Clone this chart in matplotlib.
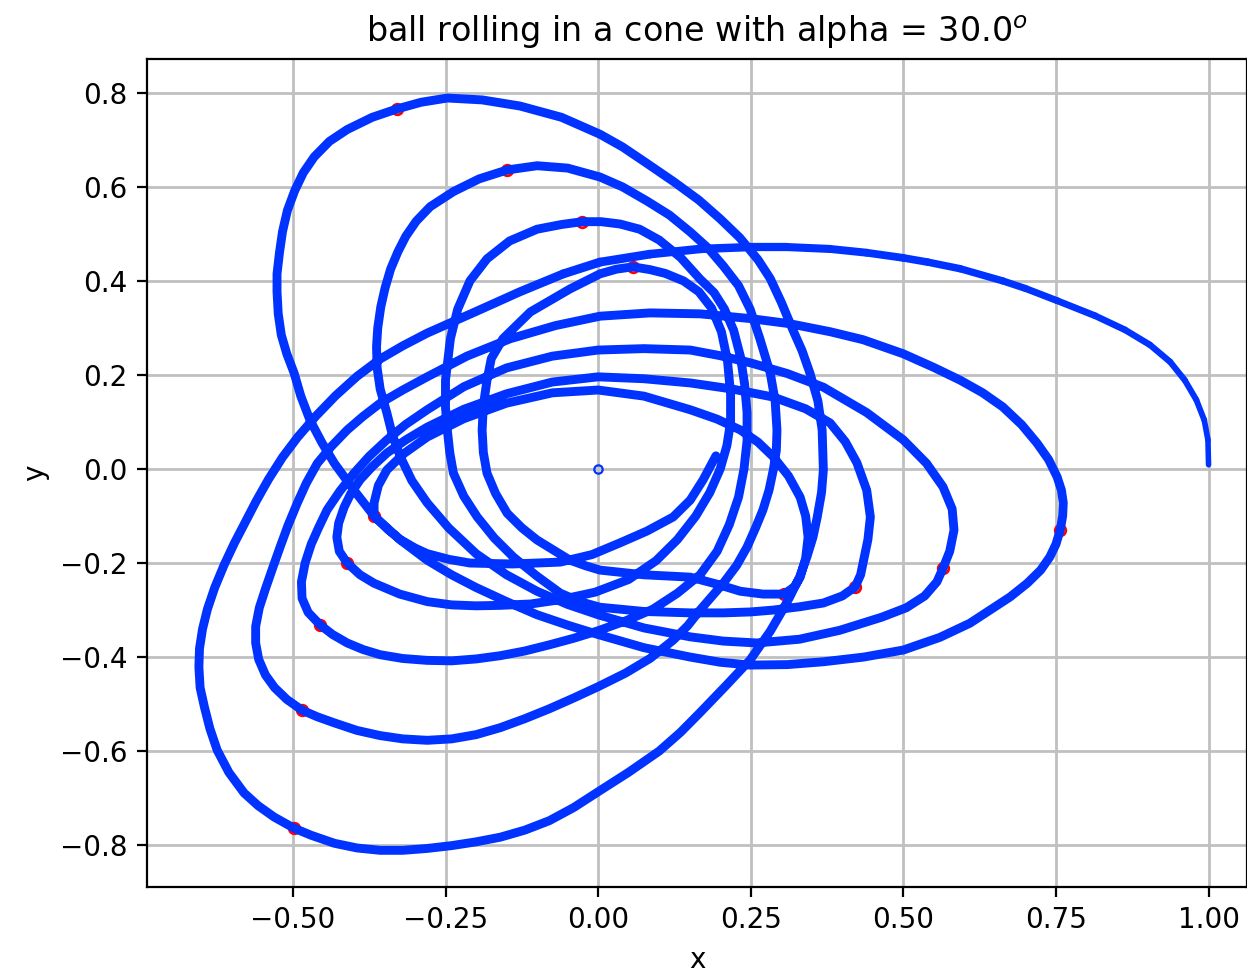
import matplotlib
matplotlib.use("Agg")
import matplotlib.pyplot as plt
from matplotlib.collections import LineCollection
import numpy as np

title = "ball rolling in a cone with alpha = 30.0$^o$"
x_ticks = [-0.50, -0.25, 0.00, 0.25, 0.50, 0.75, 1.00]
y_ticks = [-0.8, -0.6, -0.4, -0.2, 0.0, 0.2, 0.4, 0.6, 0.8]

# trajectory, lobe by lobe (x, y)
lobe_01 = [(1.000, 0.009), (0.999, 0.062), (0.993, 0.104), (0.980, 0.147), (0.961, 0.189),
           (0.937, 0.228), (0.904, 0.264), (0.863, 0.296), (0.814, 0.326), (0.752, 0.358),
           (0.700, 0.384), (0.663, 0.400), (0.593, 0.426), (0.540, 0.440), (0.500, 0.449),
           (0.440, 0.460), (0.380, 0.468), (0.310, 0.472), (0.249, 0.472), (0.167, 0.468),
           (0.085, 0.457), (0.003, 0.440), (-0.057, 0.415), (-0.128, 0.377), (-0.200, 0.335),
           (-0.280, 0.289), (-0.320, 0.262), (-0.357, 0.234), (-0.395, 0.197), (-0.430, 0.156),
           (-0.462, 0.113), (-0.492, 0.068), (-0.517, 0.025), (-0.540, -0.022), (-0.560, -0.068),
           (-0.578, -0.113), (-0.596, -0.158), (-0.613, -0.205), (-0.628, -0.252), (-0.640, -0.298),
           (-0.648, -0.340), (-0.653, -0.382), (-0.654, -0.421), (-0.652, -0.465), (-0.645, -0.506),
           (-0.636, -0.552), (-0.624, -0.598), (-0.605, -0.645), (-0.580, -0.689), (-0.557, -0.716),
           (-0.531, -0.740), (-0.498, -0.764)]
lobe_02 = [(-0.470, -0.779), (-0.432, -0.796), (-0.395, -0.806), (-0.357, -0.811), (-0.320, -0.811),
           (-0.280, -0.807), (-0.240, -0.801), (-0.200, -0.793), (-0.160, -0.783), (-0.120, -0.768),
           (-0.080, -0.748), (-0.040, -0.720), (0.003, -0.684), (0.050, -0.645), (0.100, -0.600),
           (0.135, -0.560), (0.167, -0.518), (0.210, -0.460), (0.249, -0.406), (0.282, -0.345),
           (0.300, -0.305), (0.314, -0.272), (0.330, -0.230), (0.342, -0.187), (0.352, -0.145),
           (0.359, -0.102), (0.366, -0.050), (0.369, -0.002), (0.368, 0.040), (0.367, 0.083),
           (0.360, 0.145), (0.347, 0.204), (0.334, 0.252), (0.319, 0.296), (0.300, 0.355),
           (0.282, 0.405), (0.262, 0.445), (0.232, 0.492), (0.200, 0.532), (0.165, 0.572),
           (0.125, 0.610), (0.080, 0.650), (0.040, 0.685), (0.003, 0.712), (-0.060, 0.748),
           (-0.128, 0.772), (-0.190, 0.785), (-0.247, 0.789), (-0.290, 0.780), (-0.329, 0.766)]
lobe_03 = [(-0.370, 0.748), (-0.411, 0.722), (-0.440, 0.697), (-0.465, 0.664), (-0.483, 0.630),
           (-0.497, 0.592), (-0.509, 0.550), (-0.517, 0.505), (-0.522, 0.460), (-0.526, 0.415),
           (-0.526, 0.377), (-0.524, 0.330), (-0.519, 0.285), (-0.510, 0.245), (-0.498, 0.204),
           (-0.487, 0.155), (-0.472, 0.104), (-0.452, 0.055), (-0.432, 0.012), (-0.400, -0.045),
           (-0.367, -0.100), (-0.324, -0.151), (-0.280, -0.194), (-0.240, -0.225), (-0.200, -0.252),
           (-0.150, -0.282), (-0.100, -0.310), (-0.050, -0.332), (0.000, -0.352), (0.075, -0.380),
           (0.151, -0.400), (0.200, -0.411), (0.249, -0.417), (0.310, -0.416), (0.369, -0.410),
           (0.435, -0.400), (0.500, -0.385), (0.560, -0.358), (0.609, -0.328), (0.642, -0.300),
           (0.675, -0.272), (0.703, -0.243), (0.725, -0.215), (0.740, -0.187), (0.750, -0.160),
           (0.757, -0.130)]
lobe_04 = [(0.761, -0.100), (0.762, -0.072), (0.759, -0.045), (0.752, -0.017), (0.738, 0.020),
           (0.719, 0.055), (0.694, 0.094), (0.663, 0.132), (0.630, 0.162), (0.593, 0.189),
           (0.550, 0.216), (0.500, 0.245), (0.434, 0.275), (0.380, 0.292), (0.314, 0.309),
           (0.249, 0.320), (0.167, 0.330), (0.085, 0.332), (0.003, 0.325), (-0.070, 0.305),
           (-0.144, 0.277), (-0.215, 0.240), (-0.280, 0.196), (-0.320, 0.168), (-0.357, 0.140),
           (-0.385, 0.112), (-0.411, 0.083), (-0.437, 0.048), (-0.460, 0.012), (-0.478, -0.030),
           (-0.493, -0.073), (-0.508, -0.120), (-0.521, -0.166), (-0.533, -0.210), (-0.545, -0.255),
           (-0.555, -0.295), (-0.561, -0.335), (-0.561, -0.370), (-0.556, -0.405), (-0.545, -0.438),
           (-0.530, -0.465), (-0.510, -0.490), (-0.485, -0.513)]
lobe_05 = [(-0.460, -0.527), (-0.432, -0.540), (-0.395, -0.556), (-0.357, -0.567), (-0.320, -0.574),
           (-0.280, -0.577), (-0.240, -0.574), (-0.200, -0.565), (-0.160, -0.550), (-0.120, -0.531),
           (-0.080, -0.510), (-0.040, -0.487), (0.000, -0.463), (0.045, -0.434), (0.085, -0.403),
           (0.123, -0.364), (0.147, -0.333), (0.167, -0.300), (0.187, -0.270), (0.205, -0.243),
           (0.227, -0.205), (0.244, -0.166), (0.258, -0.125), (0.270, -0.087), (0.280, -0.045),
           (0.287, -0.002), (0.292, 0.040), (0.293, 0.083), (0.290, 0.145), (0.282, 0.204),
           (0.265, 0.277), (0.249, 0.340), (0.230, 0.390), (0.205, 0.432), (0.180, 0.470),
           (0.151, 0.504), (0.117, 0.540), (0.080, 0.570), (0.040, 0.600), (0.003, 0.621),
           (-0.050, 0.640), (-0.100, 0.645), (-0.149, 0.636)]
lobe_06 = [(-0.195, 0.617), (-0.237, 0.590), (-0.275, 0.558), (-0.298, 0.527), (-0.315, 0.495),
           (-0.328, 0.462), (-0.340, 0.425), (-0.349, 0.385), (-0.356, 0.345), (-0.361, 0.300),
           (-0.363, 0.260), (-0.362, 0.215), (-0.357, 0.170), (-0.346, 0.119), (-0.337, 0.072),
           (-0.324, 0.026), (-0.305, -0.025), (-0.280, -0.072), (-0.245, -0.125), (-0.200, -0.180),
           (-0.150, -0.225), (-0.100, -0.260), (-0.050, -0.288), (0.000, -0.310), (0.075, -0.338),
           (0.151, -0.357), (0.205, -0.366), (0.260, -0.370), (0.330, -0.362), (0.396, -0.343),
           (0.465, -0.315), (0.505, -0.295), (0.535, -0.270), (0.555, -0.240), (0.565, -0.211)]
lobe_07 = [(0.576, -0.175), (0.583, -0.130), (0.580, -0.085), (0.565, -0.038), (0.538, 0.012),
           (0.500, 0.062), (0.440, 0.120), (0.369, 0.174), (0.310, 0.203), (0.249, 0.226),
           (0.200, 0.241), (0.151, 0.253), (0.075, 0.256), (0.000, 0.253), (-0.075, 0.240),
           (-0.150, 0.215), (-0.220, 0.175), (-0.280, 0.126), (-0.315, 0.095), (-0.346, 0.062),
           (-0.375, 0.027), (-0.400, -0.009), (-0.423, -0.047), (-0.444, -0.087), (-0.458, -0.125),
           (-0.470, -0.160), (-0.480, -0.200), (-0.486, -0.240), (-0.485, -0.275), (-0.475, -0.305),
           (-0.455, -0.332)]
lobe_08 = [(-0.435, -0.352), (-0.411, -0.370), (-0.385, -0.384), (-0.357, -0.395), (-0.320, -0.403),
           (-0.280, -0.407), (-0.240, -0.408), (-0.200, -0.404), (-0.160, -0.397), (-0.120, -0.387),
           (-0.080, -0.374), (-0.040, -0.360), (0.000, -0.344), (0.045, -0.323), (0.090, -0.298),
           (0.130, -0.264), (0.167, -0.225), (0.195, -0.175), (0.215, -0.118), (0.230, -0.060),
           (0.239, 0.000), (0.244, 0.060), (0.244, 0.120), (0.240, 0.180), (0.233, 0.240),
           (0.222, 0.295), (0.207, 0.340), (0.190, 0.375), (0.167, 0.404), (0.135, 0.450),
           (0.100, 0.487), (0.068, 0.510), (0.036, 0.521), (0.005, 0.526), (-0.026, 0.526)]
lobe_09 = [(-0.060, 0.520), (-0.100, 0.510), (-0.145, 0.485), (-0.182, 0.447), (-0.210, 0.400),
           (-0.230, 0.340), (-0.242, 0.277), (-0.250, 0.189), (-0.250, 0.130), (-0.247, 0.083),
           (-0.243, 0.035), (-0.237, -0.009), (-0.220, -0.058), (-0.198, -0.102), (-0.170, -0.147),
           (-0.139, -0.187), (-0.100, -0.228), (-0.062, -0.264), (-0.030, -0.282), (0.003, -0.294),
           (0.075, -0.303), (0.151, -0.306), (0.205, -0.306), (0.250, -0.304), (0.287, -0.300),
           (0.330, -0.293), (0.369, -0.285), (0.400, -0.270), (0.421, -0.251)]
lobe_10 = [(0.430, -0.225), (0.434, -0.200), (0.442, -0.150), (0.446, -0.102), (0.440, -0.045),
           (0.424, 0.013), (0.405, 0.058), (0.380, 0.098), (0.340, 0.128), (0.287, 0.153),
           (0.220, 0.170), (0.151, 0.183), (0.075, 0.192), (0.000, 0.196), (-0.075, 0.185),
           (-0.150, 0.160), (-0.220, 0.127), (-0.280, 0.089), (-0.315, 0.062), (-0.346, 0.034),
           (-0.370, 0.005), (-0.390, -0.023), (-0.405, -0.052), (-0.416, -0.081), (-0.425, -0.115),
           (-0.428, -0.145), (-0.424, -0.175), (-0.411, -0.200)]
lobe_11 = [(-0.390, -0.225), (-0.367, -0.243), (-0.325, -0.266), (-0.280, -0.282), (-0.240, -0.289),
           (-0.200, -0.291), (-0.160, -0.290), (-0.110, -0.287), (-0.062, -0.278), (-0.005, -0.262),
           (0.050, -0.235), (0.095, -0.195), (0.130, -0.150), (0.160, -0.100), (0.183, -0.050),
           (0.200, 0.000), (0.211, 0.050), (0.217, 0.100), (0.217, 0.160), (0.212, 0.230),
           (0.202, 0.292), (0.186, 0.342), (0.165, 0.377), (0.140, 0.400), (0.110, 0.416),
           (0.085, 0.424), (0.057, 0.430)]
lobe_12 = [(0.030, 0.425), (0.003, 0.415), (-0.046, 0.383), (-0.111, 0.334), (-0.156, 0.277),
           (-0.175, 0.235), (-0.182, 0.189), (-0.188, 0.135), (-0.190, 0.083), (-0.188, 0.035),
           (-0.182, -0.009), (-0.168, -0.052), (-0.149, -0.094), (-0.125, -0.125), (-0.100, -0.151),
           (-0.070, -0.175), (-0.046, -0.194), (-0.020, -0.206), (0.003, -0.215), (0.075, -0.225),
           (0.151, -0.230), (0.195, -0.245), (0.233, -0.260), (0.270, -0.266), (0.305, -0.266)]
lobe_13 = [(0.322, -0.250), (0.331, -0.230), (0.340, -0.190), (0.344, -0.145), (0.340, -0.100),
           (0.331, -0.060), (0.312, -0.015), (0.287, 0.026), (0.262, 0.057), (0.233, 0.083),
           (0.195, 0.106), (0.151, 0.126), (0.075, 0.155), (0.000, 0.168), (-0.075, 0.162),
           (-0.150, 0.140), (-0.220, 0.107), (-0.280, 0.068), (-0.318, 0.033), (-0.346, -0.002),
           (-0.360, -0.035), (-0.367, -0.072), (-0.367, -0.100)]
lobe_14 = [(-0.345, -0.128), (-0.324, -0.150), (-0.300, -0.168), (-0.280, -0.180), (-0.245, -0.192),
           (-0.210, -0.200), (-0.140, -0.202), (-0.062, -0.198), (-0.010, -0.182), (0.036, -0.157),
           (0.080, -0.132), (0.123, -0.102), (0.151, -0.066), (0.172, -0.023), (0.193, 0.028)]

red_x = [-0.329, -0.149, -0.026, 0.057, 0.757, 0.565, 0.421, 0.305, -0.367, -0.411, -0.455, -0.485, -0.498]
red_y = [0.766, 0.636, 0.526, 0.430, -0.130, -0.211, -0.251, -0.266, -0.100, -0.200, -0.332, -0.513, -0.764]

lobes = [lobe_01, lobe_02, lobe_03, lobe_04, lobe_05, lobe_06, lobe_07,
         lobe_08, lobe_09, lobe_10, lobe_11, lobe_12, lobe_13, lobe_14]
path = np.array([p for lobe in lobes for p in lobe])

fig = plt.figure(figsize=(1247 / 200, 977 / 200), dpi=200)
ax = fig.add_axes([147 / 1247, 90 / 977, 1 - 147 / 1247, (887 - 59) / 977])

blue = "#0033ff"
lw_full = 3.2
n_ramp = 22
ax.plot(red_x, red_y, "o", ms=3.8, mfc="none", mec="red", mew=1.0, zorder=2)
# the first stretch of the track is drawn thinner and widens gradually
segs = [path[i:i + 2] for i in range(n_ramp)]
widths = [2.0 + (lw_full - 2.0) * i / (n_ramp - 1) for i in range(n_ramp)]
lc = LineCollection(segs, linewidths=widths, colors=blue, capstyle="round",
                    joinstyle="round", zorder=3)
ax.add_collection(lc)
ax.plot(path[n_ramp:, 0], path[n_ramp:, 1], "-", color=blue, lw=lw_full,
        solid_joinstyle="round", solid_capstyle="round", zorder=3)
ax.plot([0], [0], "o", ms=3, mfc="none", mec=blue, mew=0.8, zorder=4)

ax.set_xlim(-0.739, 1.063)
ax.set_ylim(-0.889, 0.872)
ax.set_xticks(x_ticks)
ax.set_yticks(y_ticks)
ax.set_xticklabels([f"{v:.2f}".replace("-", "\u2212") for v in x_ticks])
ax.set_yticklabels([f"{v:.1f}".replace("-", "\u2212") for v in y_ticks])
ax.grid(True, color="#c0c0c0", lw=1.0)
ax.set_axisbelow(True)
ax.set_xlabel("x")
ax.set_ylabel("y")
ax.set_title(title)

fig.savefig("out.png", dpi=200)
